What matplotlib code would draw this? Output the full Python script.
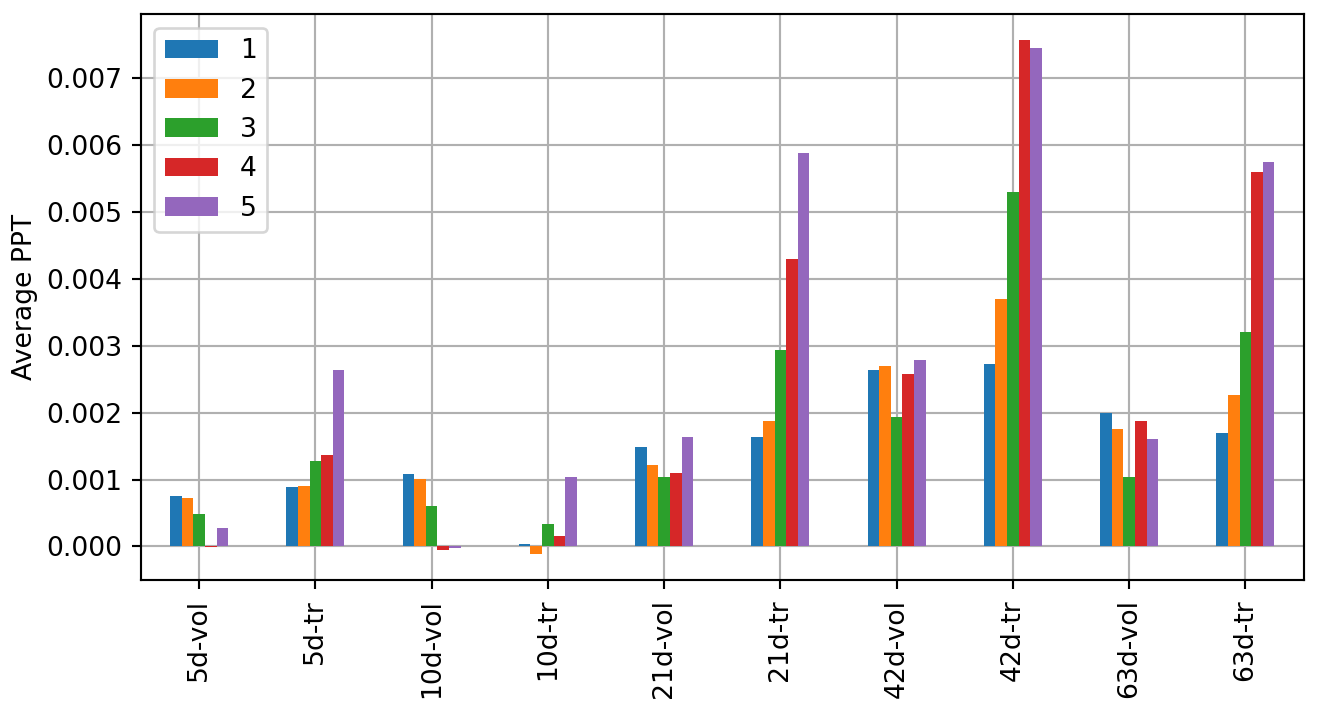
import numpy as np
import matplotlib.pyplot as plt

categories = ['5d-vol', '5d-tr', '10d-vol', '10d-tr', '21d-vol',
              '21d-tr', '42d-vol', '42d-tr', '63d-vol', '63d-tr']
series_names = ['1', '2', '3', '4', '5']

q1 = [0.00076, 0.000895, 0.001075, 0.00004, 0.00149, 0.00164, 0.00263, 0.00273, 0.00200, 0.00169]
q2 = [0.00073, 0.00091, 0.001015, -0.00012, 0.00121, 0.00187, 0.00270, 0.00370, 0.00175, 0.00227]
q3 = [0.00049, 0.00127, 0.00061, 0.00034, 0.00104, 0.00293, 0.00194, 0.00529, 0.00104, 0.00320]
q4 = [-0.00001, 0.00136, -0.00006, 0.00016, 0.00109, 0.00430, 0.00258, 0.00757, 0.00187, 0.00560]
q5 = [0.00028, 0.00263, -0.00003, 0.001045, 0.00163, 0.00588, 0.00279, 0.00745, 0.00160, 0.00575]

colors = ['#1f77b4', '#ff7f0e', '#2ca02c', '#d62728', '#9467bd']

dpi = 192
fig, ax = plt.subplots(figsize=(1318 / dpi, 711 / dpi), dpi=dpi)
x = np.arange(len(categories))
width = 0.1
for i, (vals, name) in enumerate(zip([q1, q2, q3, q4, q5], series_names)):
    ax.bar(x + (i - 2) * width, vals, width, color=colors[i], label=name)

ax.set_xticks(x)
ax.set_xticklabels(categories, rotation=90)
ax.set_xlim(-0.5, len(categories) - 0.5)
ax.set_ylabel('Average PPT', labelpad=3)
ax.set_axisbelow(True)
ax.grid(color='#b0b0b0')
ax.legend(loc='upper left')

plt.subplots_adjust(left=0.107, right=0.989, top=0.98, bottom=0.184)
plt.savefig('out.png', dpi=dpi)
